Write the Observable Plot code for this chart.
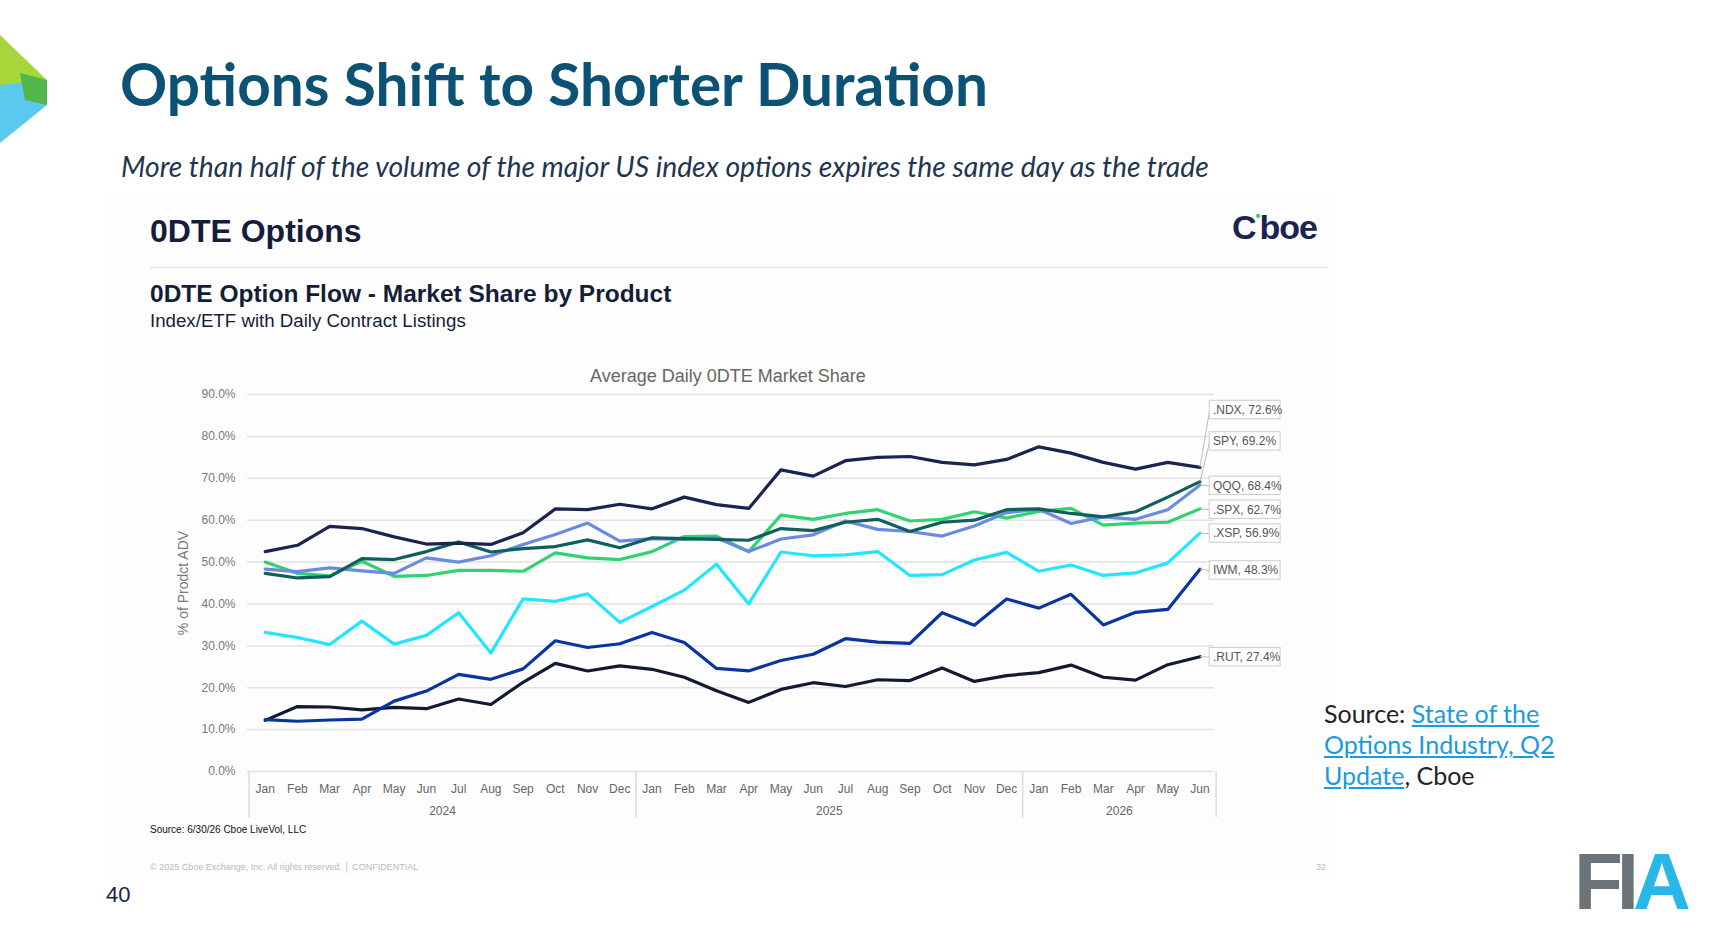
<!DOCTYPE html>
<html><head><meta charset="utf-8">
<script src="https://cdn.jsdelivr.net/npm/d3@7"></script>
<script src="https://cdn.jsdelivr.net/npm/@observablehq/plot@0.6"></script>
<style>
body{margin:0;width:1714px;height:947px;background:#fff;font-family:Lato,"Open Sans",sans-serif;position:relative;overflow:hidden}
.a{position:absolute;white-space:nowrap}
</style></head><body>
<script>
const months = ["Jan","Feb","Mar","Apr","May","Jun","Jul","Aug","Sep","Oct","Nov","Dec","Jan","Feb","Mar","Apr","May","Jun","Jul","Aug","Sep","Oct","Nov","Dec","Jan","Feb","Mar","Apr","May","Jun"];
const years = ["2024","2025","2026"];
const yTicks = [0,10,20,30,40,50,60,70,80,90];
const NDX = [52.5,54,58.5,58,56,54.3,54.5,54.2,57,62.7,62.5,63.8,62.7,65.5,63.7,62.8,72,70.5,74.2,75,75.2,73.8,73.2,74.5,77.5,76,73.8,72.2,73.8,72.6];
const SPY = [47.3,46.2,46.5,50.8,50.6,52.5,54.8,52.4,53.2,53.7,55.3,53.4,55.8,55.6,55.4,55.2,58,57.5,59.5,60.2,57.3,59.5,60,62.5,62.7,61.6,60.8,62,65.5,69.2];
const QQQ = [48.3,47.7,48.6,47.9,47.3,51,50,51.5,54.2,56.6,59.3,55,55.6,55.4,55.8,52.5,55.5,56.5,59.8,57.8,57.3,56.2,58.6,61.8,62.6,59.2,60.8,60.2,62.5,68.4];
const SPX = [50,47.3,46.7,50.2,46.6,46.8,48,48,47.8,52.2,51,50.6,52.5,56.1,56.2,52.5,61.2,60.2,61.6,62.5,59.8,60.2,62,60.5,62.1,62.8,58.8,59.3,59.5,62.7];
const XSP = [33.2,32,30.3,35.9,30.4,32.5,37.9,28.3,41.2,40.6,42.4,35.6,39.4,43.3,49.5,40,52.4,51.5,51.7,52.5,46.8,47,50.5,52.3,47.8,49.3,46.8,47.4,49.8,56.9];
const IWM = [12.4,12,12.3,12.5,16.8,19.2,23.2,22,24.5,31.2,29.6,30.5,33.2,30.8,24.6,24,26.5,28,31.7,30.9,30.6,37.9,34.9,41.2,39,42.3,35,38,38.7,48.3];
const RUT = [12.2,15.5,15.4,14.7,15.3,15,17.3,16,21.3,25.8,24,25.2,24.4,22.5,19.3,16.5,19.6,21.2,20.3,21.9,21.7,24.7,21.5,22.9,23.6,25.4,22.5,21.8,25.5,27.4];
const seriesNames = ["RUT","IWM","XSP","SPX","QQQ","SPY","NDX"];
const seriesValues = [RUT,IWM,XSP,SPX,QQQ,SPY,NDX];
const seriesColors = ["#121a33","#0a35a0","#22e6ff","#2fd470","#6b8ae0","#0f5f5c","#1a2450"];
const labelText = [".RUT, 27.4%","IWM, 48.3%",".XSP, 56.9%",".SPX, 62.7%","QQQ, 68.4%","SPY, 69.2%",".NDX, 72.6%"];
const labelY = [27.3,48.0,56.8,62.5,68.2,78.8,86.3];

const data = [];
seriesNames.forEach((s,i)=>seriesValues[i].forEach((v,j)=>data.push({s,i:j,v})));
const labels = seriesNames.map((s,k)=>({s,t:labelText[k],y:labelY[k],v:seriesValues[k][29]}));
const monthData = months.map((m,i)=>({m,i}));
const yearData = years.map((y,k)=>({y,x:[5.5,17.5,26.5][k]}));

const chart = Plot.plot({
  width:1157,height:481,marginLeft:110,marginRight:80,marginTop:34,marginBottom:70,
  x:{domain:[-0.55,29.45],axis:null},
  y:{domain:[0,90],axis:null},
  color:{domain:seriesNames,range:seriesColors},
  style:{fontFamily:"Liberation Sans, Arial, sans-serif",background:"transparent",overflow:"visible"},
  marks:[
    Plot.ruleY(yTicks,{stroke:"#e2e2e2",strokeWidth:1.5}),
    Plot.text(yTicks,{x:-0.55,y:d=>d,text:d=>d.toFixed(1)+"%",textAnchor:"end",dx:-12,fill:"#777",fontSize:12}),
    Plot.ruleX([-0.5,11.5,23.5,29.5],{y1:0,y2:-11,stroke:"#dcdcdc",strokeWidth:1.5}),
    Plot.text(monthData,{x:"i",y:0,text:"m",dy:18,fill:"#666",fontSize:12}),
    Plot.text(yearData,{x:"x",y:0,text:"y",dy:40,fill:"#666",fontSize:12}),
    Plot.line(data,{x:"i",y:"v",z:"s",stroke:"s",strokeWidth:3.2,curve:"linear"}),
    Plot.link(labels,{x1:29,y1:"v",x2:29.3,y2:"y",stroke:"#bbb",strokeWidth:1}),
    Plot.rect(labels,{x1:29.3,x2:31.5,y1:d=>d.y-2.2,y2:d=>d.y+2.2,fill:"#fff",stroke:"#ccc"}),
    Plot.text(labels,{x:29.4,y:"y",text:"t",textAnchor:"start",fill:"#555",fontSize:12}),
    Plot.text(["% of Prodct ADV"],{x:-0.55,y:45,text:d=>d,rotate:-90,dx:-64,fill:"#777",fontSize:14})
  ]
});
chart.style.position="absolute";chart.style.left="137px";chart.style.top="360px";

document.body.innerHTML = `
<svg class="a" style="left:0;top:35px" width="50" height="110"><polygon points="0,0 47,45 0,60" fill="#a6d63a"/><polygon points="0,50 47,45 47,70 0,108" fill="#5bc8f0"/><polygon points="20,38 47,45 47,70 25,65" fill="#52b64a"/></svg>
<div class="a" style="left:107px;top:196px;width:1228px;height:680px;background:#fdfdfd"></div>
<div class="a" style="left:120px;top:48px;font:bold 58.5px Lato;color:#0b5275">Options Shift to Shorter Duration</div>
<div class="a" style="left:121px;top:149px;font:italic 28.3px Lato;color:#1f3550">More than half of the volume of the major US index options expires the same day as the trade</div>
<div class="a" style="left:150px;top:213px;font:bold 32px 'Liberation Sans',Arial;color:#151d3a">0DTE Options</div>
<div class="a" style="left:1232px;top:208px;font:bold 34px 'Liberation Sans',Arial;color:#1a2450;letter-spacing:-1px">C<span style="color:#2fd470;font-size:14px;vertical-align:top">•</span>boe</div>
<div class="a" style="left:150px;top:267px;width:1178px;height:1px;background:#e4e4e4"></div>
<div class="a" style="left:150px;top:280px;font:bold 24.5px 'Liberation Sans',Arial;color:#151d3a">0DTE Option Flow - Market Share by Product</div>
<div class="a" style="left:150px;top:310px;font:18.7px 'Liberation Sans',Arial;color:#151d3a">Index/ETF with Daily Contract Listings</div>
<div class="a" style="left:590px;top:366px;font:18px 'Liberation Sans',Arial;color:#666">Average Daily 0DTE Market Share</div>
<div class="a" style="left:150px;top:824px;font:10px 'Liberation Sans',Arial;color:#111">Source: 6/30/26  Cboe LiveVol, LLC</div>
<div class="a" style="left:150px;top:862px;font:9px 'Liberation Sans',Arial;color:#bbb">© 2025 Cboe Exchange, Inc. All rights reserved. │ CONFIDENTIAL</div>
<div class="a" style="left:1316px;top:862px;font:9px 'Liberation Sans',Arial;color:#bbb">32</div>
<div class="a" style="left:106px;top:882px;font:22px 'Liberation Sans',Arial;color:#1a2450">40</div>
<div class="a" style="left:1324px;top:698px;font:25px Lato;color:#222;line-height:31px">Source: <a style="color:#1a9be0" href="#">State of the<br>Options Industry, Q2<br>Update</a>, Cboe</div>
<div class="a" style="left:1574px;top:842px;font:bold 80px 'Liberation Sans',Arial;color:#6b7278;letter-spacing:-6px;line-height:80px">FI<span style="color:#29b6e8">A</span></div>
`;
document.body.appendChild(chart);
</script>
</body></html>
